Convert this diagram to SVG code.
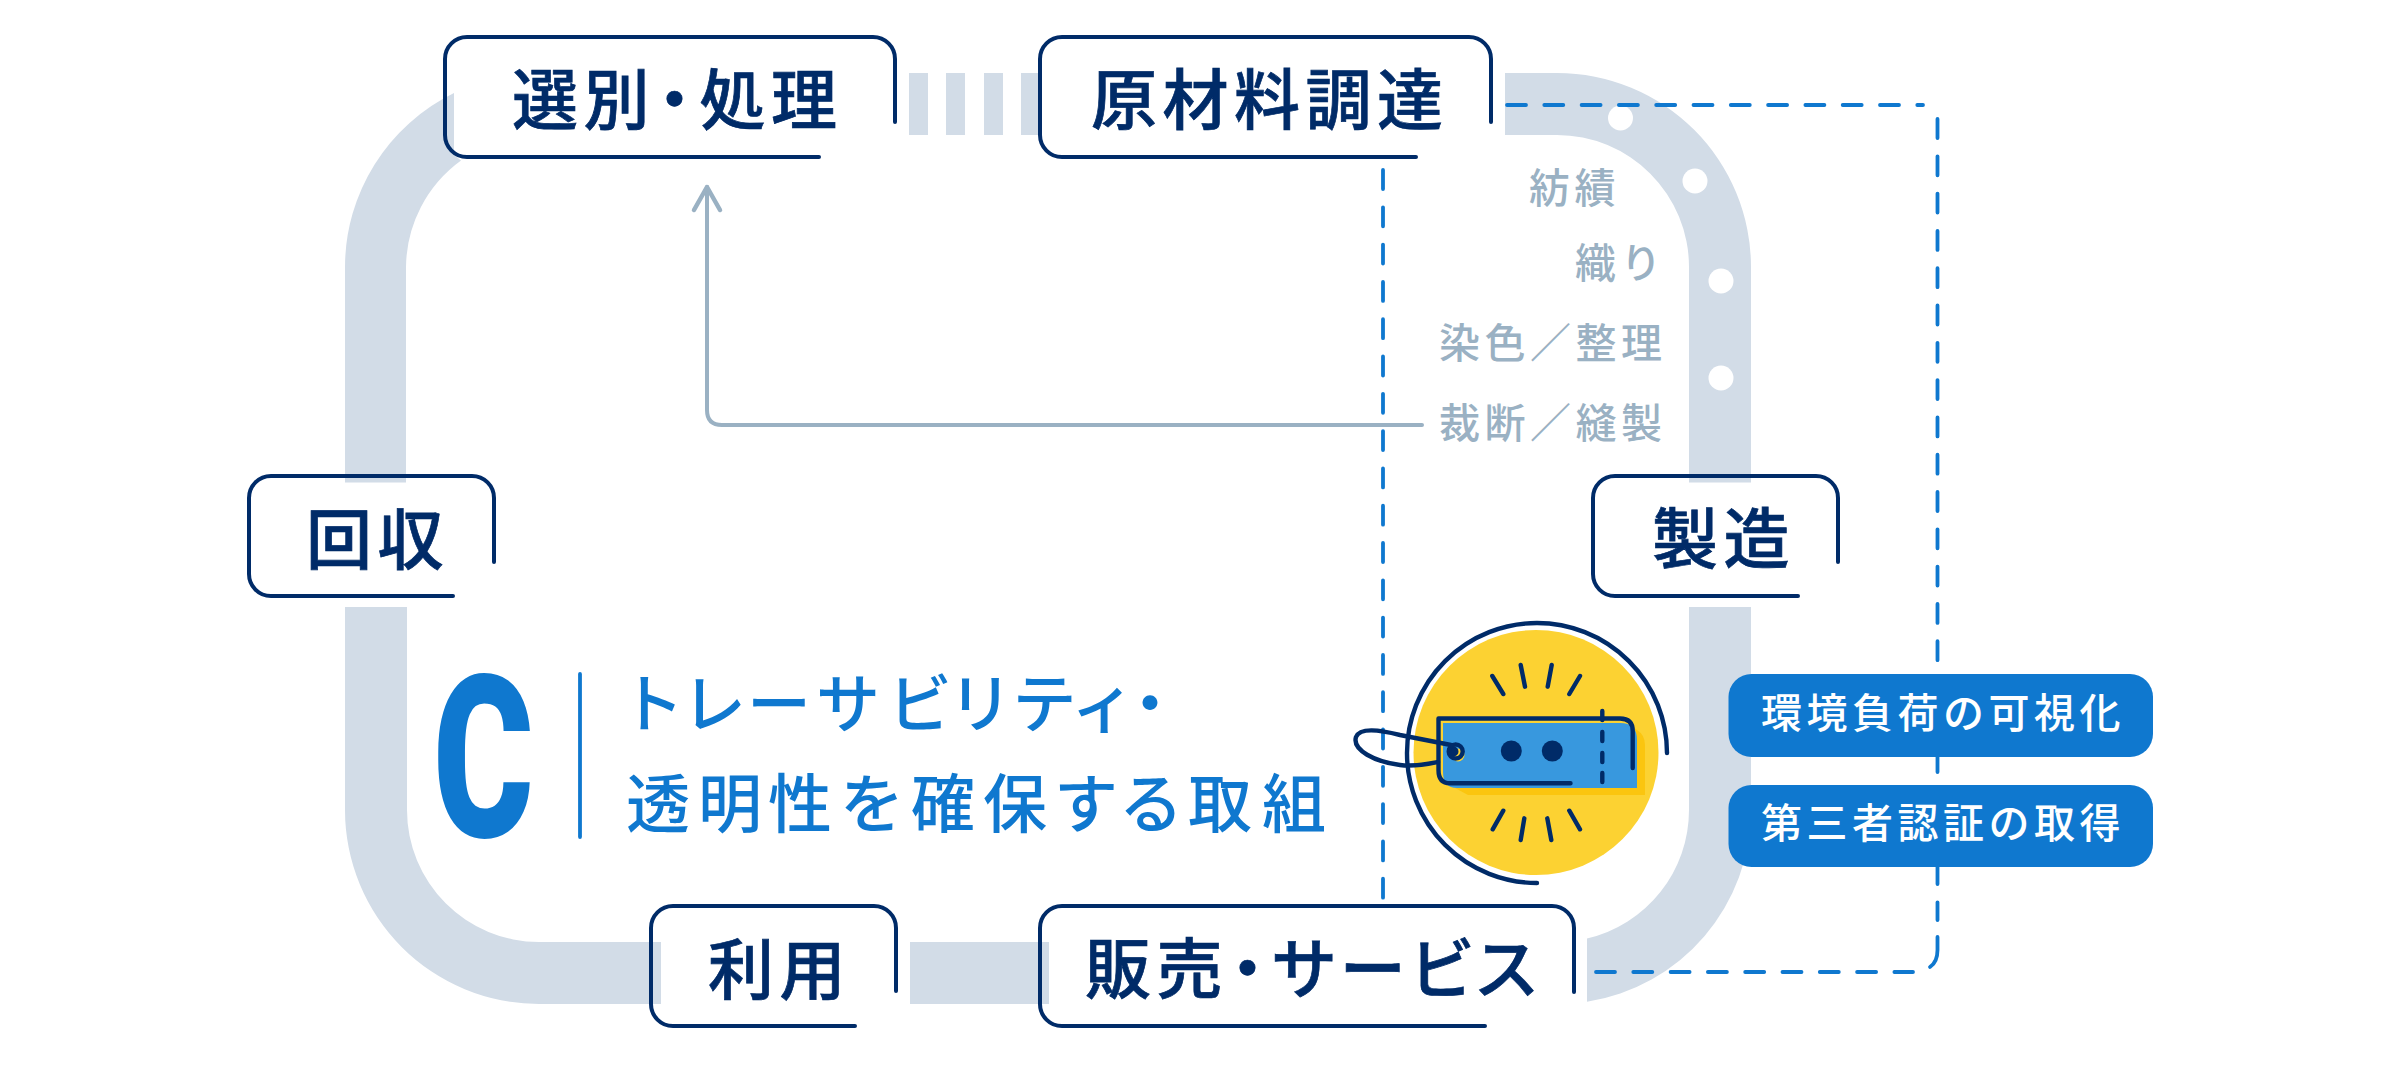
<svg xmlns="http://www.w3.org/2000/svg" width="2400" height="1072" viewBox="0 0 2400 1072">
<style>
text{font-family:"Noto Sans CJK JP","Noto Sans",sans-serif}
.band{fill:#d2dce7}
.box{fill:none;stroke:#002b68;stroke-width:4;stroke-linecap:round}
.nt{font-size:66px;font-weight:500;fill:#002b68;stroke:#002b68;stroke-width:.7;letter-spacing:5.500px;font-feature-settings:"palt"}
.gt{font-size:41px;font-weight:500;fill:#9ab1c3;letter-spacing:4.500px}
.bt{font-size:41px;font-weight:500;fill:#fff;letter-spacing:4.500px}
.tt{font-size:64px;font-weight:500;fill:#0f78cf;text-anchor:middle}
.dash{fill:none;stroke:#0f78cf;stroke-width:3.800;stroke-linecap:round;stroke-dasharray:19 18.300}
.dsh{fill:none;stroke:#0f78cf;stroke-width:3.800;stroke-linecap:round}
.gl{fill:none;stroke:#9ab1c3;stroke-width:4;stroke-linecap:round;stroke-linejoin:round}
.nv{fill:none;stroke:#002b68;stroke-width:4.400;stroke-linecap:round;stroke-linejoin:round}
.dot{fill:#fff}
</style>
<g id="loop-band">
<path class="band" d="M454 93A194 194 0 0 0 345 267V482.500H406V267A133 133 0 0 1 461 160.500L454 155Z"/>
<path class="band" d="M345 607H407V810A132 132 0 0 0 539 942H661V1004H539A194 194 0 0 1 345 810Z"/>
<rect class="band" x="910" y="942" width="139" height="62"/>
<rect class="band" x="909" y="73" width="19" height="62"/>
<rect class="band" x="946" y="73" width="19" height="62"/>
<rect class="band" x="984" y="73" width="19" height="62"/>
<rect class="band" x="1021" y="73" width="19" height="62"/>
<path class="band" d="M1505 73H1557A194 194 0 0 1 1751 267V482.500H1689V267A132 132 0 0 0 1557 135H1505Z"/>
<path class="band" d="M1689 607H1751V810A194 194 0 0 1 1587 1001.700V938.500A132 132 0 0 0 1689 810Z"/>
<circle class="dot" cx="1620.500" cy="118" r="12.500"/>
<circle class="dot" cx="1695" cy="181" r="12.500"/>
<circle class="dot" cx="1721" cy="281" r="12.500"/>
<circle class="dot" cx="1721" cy="378" r="12.500"/>
</g>
<g id="connectors">
<path class="gl" d="M1422 425H722Q707 425 707 410V187"/>
<path class="gl" style="stroke-width:4.500" d="M694 210L707 187L720 210"/>
<path class="dash" d="M1383 170V898"/>
<path class="dash" d="M1507 105H1923"/>
<path class="dash" d="M1937.500 119V920"/>
<path class="dsh" d="M1937.500 937V950Q1937.500 962 1930 967"/>
<path class="dash" d="M1596 972H1913"/>
</g>
<g id="step-labels">
<text class="gt" x="1529" y="203">紡績</text>
<text class="gt" x="1575" y="278">織り</text>
<text class="gt" x="1439" y="358">染色／整理</text>
<text class="gt" x="1439" y="438">裁断／縫製</text>
</g>
<g id="node-sorting">
<path class="box" d="M819 157H467A22 22 0 0 1 445 135V59A22 22 0 0 1 467 37H873A22 22 0 0 1 895 59V122"/>
<text class="nt" x="512" y="124">選別<tspan dx="3">・</tspan><tspan dx="3">処理</tspan></text>
</g>
<g id="node-material">
<path class="box" d="M1416 157H1062A22 22 0 0 1 1040 135V59A22 22 0 0 1 1062 37H1469A22 22 0 0 1 1491 59V122"/>
<text class="nt" x="1091" y="124" letter-spacing="6.500">原材料調達</text>
</g>
<g id="node-collection">
<path class="box" d="M453 596H271A22 22 0 0 1 249 574V498A22 22 0 0 1 271 476H472A22 22 0 0 1 494 498V562"/>
<text class="nt" x="306" y="564">回収</text>
</g>
<g id="node-manufacturing">
<path class="box" d="M1798 596H1615A22 22 0 0 1 1593 574V498A22 22 0 0 1 1615 476H1816A22 22 0 0 1 1838 498V562"/>
<text class="nt" x="1652" y="563">製造</text>
</g>
<g id="node-use">
<path class="box" d="M855 1026H673A22 22 0 0 1 651 1004V928A22 22 0 0 1 673 906H874A22 22 0 0 1 896 928V991"/>
<text class="nt" x="708" y="994">利用</text>
</g>
<g id="node-sales">
<path class="box" d="M1485 1026H1062A22 22 0 0 1 1040 1004V928A22 22 0 0 1 1062 906H1552A22 22 0 0 1 1574 928V992"/>
<text class="nt" x="1085" y="993">販売<tspan dx="3">・</tspan><tspan dx="3">サ</tspan>ービス</text>
</g>
<g id="heading">
<text x="0" y="0" transform="translate(433 837) scale(.68 1)" style="font-family:Roboto,sans-serif;font-size:226px;font-weight:900;fill:#0f78cf">C</text>
<path d="M580 674V837" fill="none" stroke="#0f78cf" stroke-width="3.800" stroke-linecap="round"/>
<text class="tt" x="652 714 779 848 920 980.500 1044.500 1103 1150" y="727">トレーサビリティ・</text>
<text class="tt" x="658 730 800 872 943 1015 1086 1151 1220 1294" y="827">透明性を確保する取組</text>
</g>
<g id="tag-icon">
<circle cx="1536" cy="752.500" r="122.500" fill="#fcd232"/>
<path class="nv" d="M1667 753A130 130 0 1 0 1537 883"/>
<path d="M1455 788L1468 795H1645V745Q1645 735 1637 730L1630 725V788Z" fill="#fbc50f"/>
<path d="M1443 723H1620Q1637 723 1637 740V788H1457Q1443 788 1443 772Z" fill="#3898de"/>
<circle cx="1458" cy="755" r="6.500" fill="#fcd232"/>
<circle cx="1453.500" cy="751.500" r="5" fill="#002b68"/>
<circle cx="1455.700" cy="751.500" r="7" class="nv"/>
<path class="nv" d="M1451 745L1400 735C1380 730 1360 727 1356 737C1352 750 1375 762 1400 765C1415 767 1428 764 1438 762"/>
<path class="nv" d="M1632.700 768V731Q1632.700 718.500 1620 718.500H1438.500V770Q1438.500 783.300 1450 783.300H1570.500"/>
<circle cx="1511.300" cy="751" r="10.500" fill="#002b68"/>
<circle cx="1552.300" cy="751" r="10.500" fill="#002b68"/>
<path class="nv" d="M1602.300 711V720M1602.300 732V741M1602.300 753V762M1602.300 773V782"/>
<path class="nv" d="M1492.300 676L1503.300 694M1520.700 665L1525 686.700M1551.700 665L1547.700 686.700M1580 676L1569.300 694M1503.300 810.700L1492.700 829.300M1524.300 818.300L1520.700 840M1547.300 818.300L1551.300 840M1569.300 810.700L1580 829.300"/>
</g>
<g id="badge-visibility">
<rect x="1728.500" y="674" width="424.500" height="83" rx="23" fill="#0f78cf"/>
<text class="bt" x="1761" y="728">環境負荷の可視化</text>
</g>
<g id="badge-certification">
<rect x="1728.500" y="785" width="424.500" height="82" rx="23" fill="#0f78cf"/>
<text class="bt" x="1761" y="838">第三者認証の取得</text>
</g>
</svg>
